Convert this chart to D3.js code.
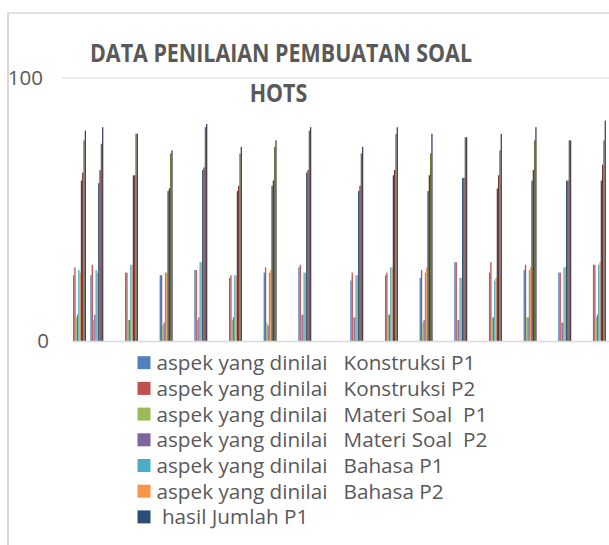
<!DOCTYPE html>
<html>
<head>
<meta charset="utf-8">
<script src="https://cdn.jsdelivr.net/npm/d3@7"></script>
<style>
  html, body { margin: 0; padding: 0; background: #fff; overflow: hidden; }
  svg { display: block; }
  text { font-family: "Open Sans", "Noto Sans", sans-serif; fill: #595959; white-space: pre; }
</style>
</head>
<body>
<svg id="chart" width="609" height="545"></svg>
<script>
// ---------- DATA ----------
// category rows of the sheet (blank rows have no values)
const categories = [1,2,3,4,5,6,7,8,9,10,11,12,13,14,15,16,17,18,19,20,21,22,23,24,25,26,27,28,29,30,31];
const filledRows = [1,2,4,6,8,10,12,14,17,19,21,23,25,27,29,31];

const seriesNames = [
  "aspek yang dinilai   Konstruksi P1",
  "aspek yang dinilai   Konstruksi P2",
  "aspek yang dinilai   Materi Soal  P1",
  "aspek yang dinilai   Materi Soal  P2",
  "aspek yang dinilai   Bahasa P1",
  "aspek yang dinilai   Bahasa P2",
  " hasil Jumlah P1",
  " hasil Jumlah P2",
  " nilai P1",
  " nilai P2"
];
const seriesColors = ["#4F81BD","#C0504D","#9BBB59","#8064A2","#4BACC6","#F79646","#2C4D75","#772C2A","#5F7530","#4D3B62"];

const konstruksiP1 = [25,25,26,25,27,24,26,28,23,25,24,30,26,27,26,29];
const konstruksiP2 = [28,29,26,25,27,25,28,29,26,26,27,30,30,29,26,29];
const materiP1     = [9,8,8,6,8,8,7,10,9,10,7,8,9,9,7,9];
const materiP2     = [10,10,8,7,9,9,6,10,9,10,8,8,9,9,7,10];
const bahasaP1     = [27,27,29,26,30,25,26,26,25,28,26,24,23,27,28,29];
const bahasaP2     = [26,26,29,26,30,25,27,26,25,28,28,24,24,28,28,30];
const jumlahP1     = [61,60,63,57,65,57,59,64,57,63,57,62,58,61,61,61];
const jumlahP2     = [64,65,63,58,66,59,61,65,59,65,63,62,63,65,61,67];
const nilaiP1      = [76.3,75,78.8,71.3,81.3,71.3,73.8,80,71.3,78.8,71.3,77.5,72.5,76.3,76.3,76.3];
const nilaiP2      = [80,81.3,78.8,72.5,82.5,73.8,76.3,81.3,73.8,81.3,78.8,77.5,78.8,81.3,76.3,83.8];

const seriesValues = [konstruksiP1, konstruksiP2, materiP1, materiP2, bahasaP1, bahasaP2, jumlahP1, jumlahP2, nilaiP1, nilaiP2];
const yTicks = [0, 100];
const titleLines = ["DATA PENILAIAN PEMBUATAN SOAL", "HOTS"];
const legendCount = 7; // legend box only shows the first seven entries

// ---------- CHART ----------
const svg = d3.select("#chart");
const W = 609, H = 545;

// chart area border (cropped on right/bottom)
svg.append("line").attr("x1", 8).attr("x2", 8).attr("y1", 12.5).attr("y2", H)
  .attr("stroke", "#d9d9d9").attr("stroke-width", 2);
svg.append("line").attr("x1", 8).attr("x2", W).attr("y1", 13).attr("y2", 13)
  .attr("stroke", "#d9d9d9").attr("stroke-width", 1.5);

const plot = { left: 62.6, right: 616.3, top: 78, bottom: 341 };

const y = d3.scaleLinear().domain([0, 100]).range([plot.bottom, plot.top]);
const x = d3.scaleBand().domain(categories).range([plot.left, plot.right])
  .paddingInner(0.25).paddingOuter(0.6);
const xs = d3.scaleBand().domain(d3.range(seriesNames.length)).range([0, x.bandwidth()]);

// gridline at 100
svg.append("line").attr("x1", 62).attr("x2", W)
  .attr("y1", y(100)).attr("y2", y(100)).attr("stroke", "#d9d9d9").attr("stroke-width", 1.2);

// bars
const rows = filledRows.map((r, i) => ({ row: r, vals: seriesValues.map(s => s[i]) }));
const g = svg.append("g");
rows.forEach(rw => {
  g.selectAll(null).data(rw.vals.map((v, k) => ({ v, k }))).enter().append("rect")
    .attr("x", d => x(rw.row) + xs(d.k))
    .attr("width", xs.bandwidth())
    .attr("y", d => y(d.v))
    .attr("height", d => y(0) - y(d.v))
    .attr("fill", d => seriesColors[d.k]);
});

// baseline (0)
svg.append("line").attr("x1", x(categories[0]) - 1).attr("x2", W)
  .attr("y1", y(0) + 0.5).attr("y2", y(0) + 0.5).attr("stroke", "#d9d9d9").attr("stroke-width", 1.5);

// y tick labels
svg.selectAll(".ytick").data(yTicks).enter().append("text")
  .attr("class", "ytick")
  .attr("x", d => d === 100 ? 43 : 49)
  .attr("y", d => y(d))
  .attr("dy", "0.36em")
  .attr("text-anchor", "end")
  .style("font-size", "20.5px")
  .text(d => d);

// title: taller caps, squeezed to the reference width
const tSize = 24.5;
const t1 = svg.append("text").attr("text-anchor", "middle").attr("x", 281).attr("y", 61.5)
  .style("font-weight", "bold").style("font-size", tSize + "px").text(titleLines[0]);
const w1 = t1.node().getComputedTextLength();
const squeeze = 382 / w1;
t1.attr("textLength", 382).attr("lengthAdjust", "spacingAndGlyphs");
const t2 = svg.append("text").attr("text-anchor", "middle").attr("x", 278.5).attr("y", 101.5)
  .style("font-weight", "bold").style("font-size", tSize + "px").text(titleLines[1]);
t2.attr("textLength", t2.node().getComputedTextLength() * squeeze).attr("lengthAdjust", "spacingAndGlyphs");

// legend
const probe = svg.append("text").style("font-size", "20px").text("aspek yang dinilai");
const lSize = 20 * 171 / probe.node().getComputedTextLength();
probe.remove();
const leg = svg.append("g");
seriesNames.slice(0, legendCount).forEach((name, i) => {
  const cy = 362.7 + i * 25.7;
  leg.append("rect").attr("x", 137.5).attr("y", cy - 6.5).attr("width", 13).attr("height", 13)
    .attr("fill", seriesColors[i]);
  leg.append("text").attr("x", 156.5).attr("y", cy).attr("dy", "0.36em")
    .attr("xml:space", "preserve")
    .style("font-size", lSize + "px").text(name);
});
</script>
</body>
</html>
